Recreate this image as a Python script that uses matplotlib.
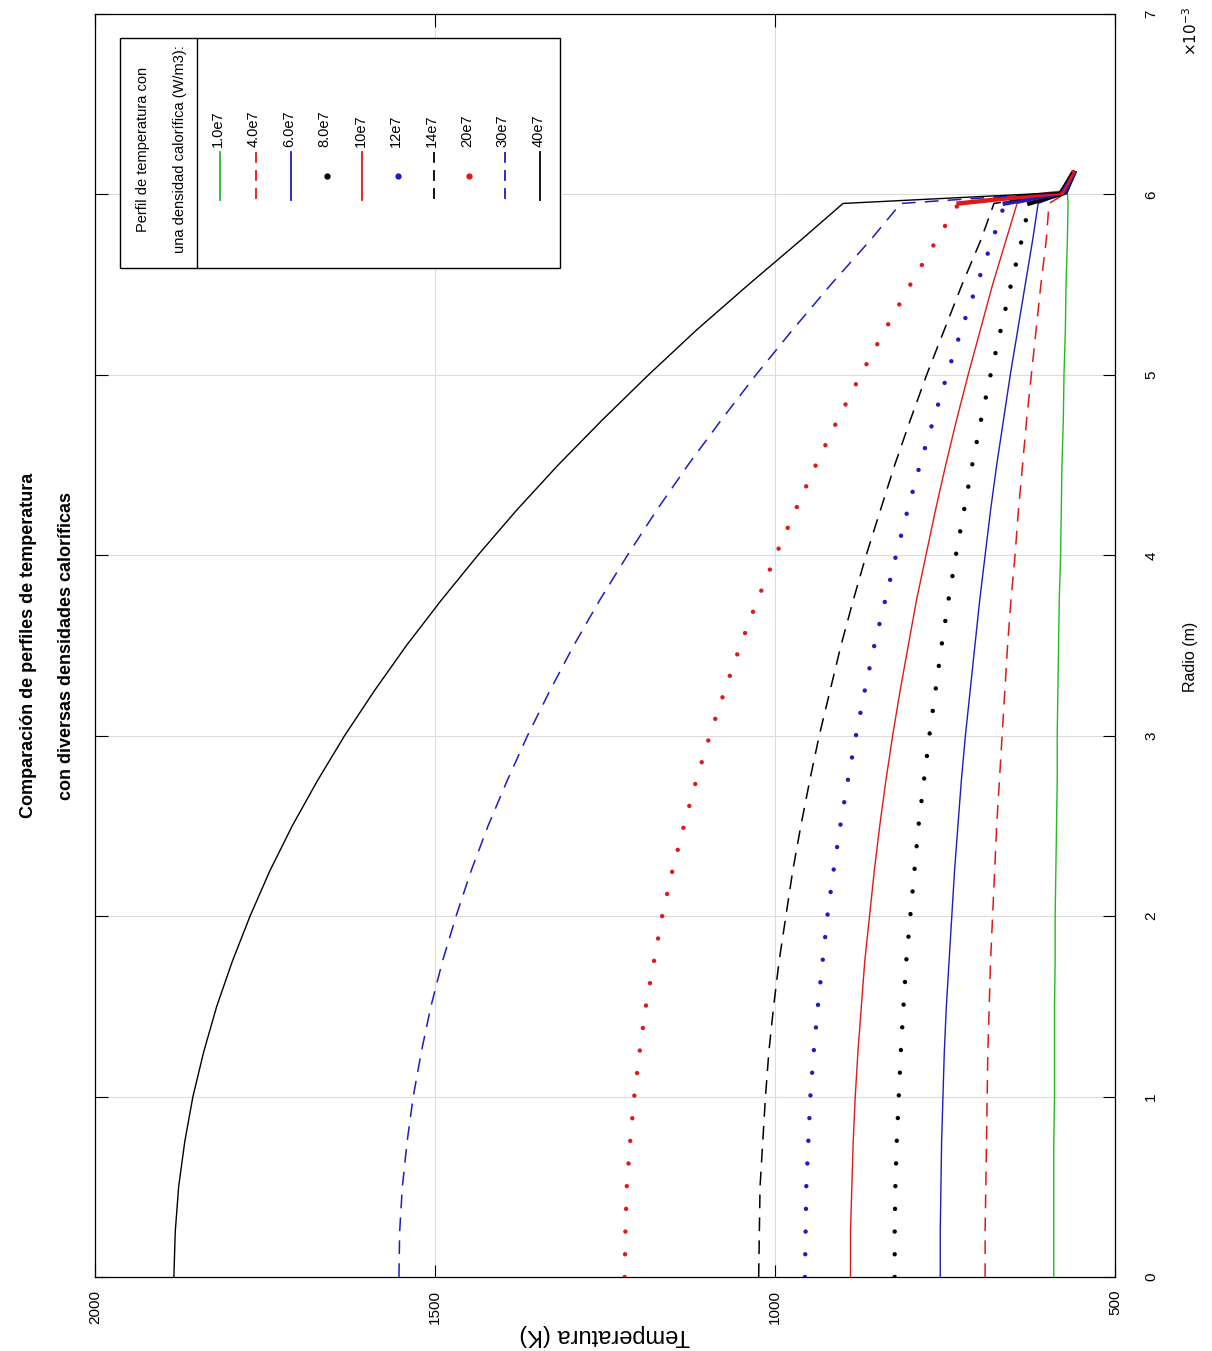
import matplotlib
matplotlib.use('Agg')
import matplotlib.pyplot as plt
from matplotlib.lines import Line2D
from matplotlib.patches import Rectangle
import numpy as np

plt.rcParams['font.family'] = ['Liberation Sans', 'DejaVu Sans']

# ---------------- data ----------------
# radial positions in units of 1e-3 m
radius_fuel = [0.0, 0.25, 0.5, 0.75, 1.0, 1.25, 1.5, 1.75, 2.0, 2.25, 2.5, 2.75, 3.0,
               3.25, 3.5, 3.75, 4.0, 4.25, 4.5, 4.75, 5.0, 5.25, 5.5, 5.75, 5.95]
radius_clad = [6.01, 6.12]

series_labels = ['1.0e7', '4.0e7', '6.0e7', '8.0e7', '10e7', '12e7', '14e7', '20e7', '30e7', '40e7']

T_1e7 = [590, 590, 590, 590, 589, 589, 589, 588, 588, 587, 586, 585, 585,
         584, 583, 582, 580, 579, 578, 576, 575, 573, 572, 570, 569]
T_4e7 = [691, 691, 690, 689, 688, 687, 685, 683, 680, 677, 674, 670, 666,
         662, 658, 653, 647, 642, 636, 630, 623, 616, 609, 601, 597]
T_6e7 = [757, 757, 756, 755, 753, 751, 748, 744, 740, 736, 731, 726, 720,
         713, 706, 699, 691, 683, 674, 664, 654, 643, 632, 621, 613]
T_8e7 = [824, 824, 823, 821, 818, 815, 811, 807, 801, 795, 789, 781, 773,
         764, 755, 745, 734, 722, 710, 697, 683, 668, 653, 637, 626]
T_10e7 = [889, 889, 887, 885, 882, 878, 873, 868, 861, 854, 846, 837, 827,
          816, 804, 792, 778, 764, 749, 733, 716, 698, 680, 660, 644]
T_12e7 = [956, 955, 954, 951, 948, 943, 937, 930, 923, 914, 904, 893, 881,
          868, 854, 838, 822, 805, 787, 767, 747, 726, 703, 680, 662]
T_14e7 = [1024, 1023, 1022, 1018, 1014, 1009, 1002, 994, 984, 974, 962, 949, 935,
          919, 903, 885, 866, 845, 824, 801, 777, 751, 725, 697, 678]
T_20e7 = [1221, 1220, 1218, 1213, 1207, 1199, 1190, 1178, 1166, 1151, 1134, 1116, 1096,
          1074, 1051, 1026, 999, 970, 940, 908, 874, 838, 801, 762, 730]
T_30e7 = [1553, 1552, 1548, 1541, 1532, 1520, 1506, 1489, 1469, 1447, 1422, 1394, 1364,
          1331, 1296, 1258, 1217, 1174, 1128, 1079, 1028, 974, 918, 859, 815]
T_40e7 = [1884, 1882, 1877, 1868, 1856, 1840, 1821, 1798, 1772, 1743, 1710, 1673, 1633,
          1589, 1542, 1491, 1437, 1380, 1319, 1254, 1186, 1115, 1039, 961, 900]

# cladding inner / outer temperatures (K)
T_clad_in = [570, 571, 572, 573, 574, 575, 576, 578, 580, 582]
T_clad_out = [559, 559, 560, 560, 561, 561, 562, 562, 563, 564]

T_ticks = [500, 1000, 1500, 2000]
T_tick_labels = ['500', '1000', '1500', '2000']
r_ticks = [0, 1, 2, 3, 4, 5, 6, 7]
r_tick_labels = ['0', '1', '2', '3', '4', '5', '6', '7']

fuel_profiles = [T_1e7, T_4e7, T_6e7, T_8e7, T_10e7, T_12e7, T_14e7, T_20e7, T_30e7, T_40e7]

# ---------------- styles ----------------
GREEN = '#22bb22'
RED = '#e01818'
BLUE = '#1c1cc0'
BLACK = '#000000'
styles = [(GREEN, 'solid'), (RED, 'dash'), (BLUE, 'solid'), (BLACK, 'dot'), (RED, 'solid'),
          (BLUE, 'dot'), (BLACK, 'dash'), (RED, 'dot'), (BLUE, 'dash'), (BLACK, 'solid')]
DASH = (0, (9, 6))
DOT = (0, (0.01, 5.1))

fig = plt.figure(figsize=(12.12, 13.51), dpi=100)
ax = fig.add_axes([95 / 1212, 74 / 1351, 1020 / 1212, 1263 / 1351])

for prof, cin, cout, (col, kind) in zip(fuel_profiles, T_clad_in, T_clad_out, styles):
    r = np.array(radius_fuel + radius_clad) * 1e-3
    T = np.array(prof + [cin, cout], dtype=float)
    nf = len(radius_fuel)
    if kind == 'solid':
        ax.plot(T, r, color=col, lw=1.0, zorder=3)
    elif kind == 'dash':
        ax.plot(T, r, color=col, lw=1.1, linestyle=DASH, zorder=3)
    else:
        ax.plot(T[:nf], r[:nf], color=col, lw=3.2, linestyle=DOT,
                dash_capstyle='round', zorder=3)
        ax.plot(T[nf - 1:], r[nf - 1:], color=col, lw=3.2, zorder=3)

ax.set_xlim(2000, 500)
ax.set_ylim(0, 7e-3)
ax.grid(True, color='#dcdcdc', lw=0.8)
ax.set_axisbelow(True)

ax.set_xticks(T_ticks, T_tick_labels, rotation=90, fontsize=11)
ax.yaxis.tick_right()
ax.set_yticks(np.array(r_ticks) * 1e-3, r_tick_labels, rotation=90, va='center', fontsize=11)
ax.tick_params(axis='both', direction='in', length=9, width=0.8, top=True, bottom=True,
               left=True, right=True, labelleft=False, labelright=True)
ax.tick_params(axis='x', pad=9)
ax.tick_params(axis='y', pad=21)
for s in ax.spines.values():
    s.set_linewidth(0.9)

ax.set_xlabel('Temperatura (K)', rotation=180, fontsize=17)
ax.xaxis.set_label_coords(0.5, -0.046)
ax.xaxis.label.set_va('center')
ax.yaxis.set_label_position('right')
ax.set_ylabel('Radio (m)', rotation=90, fontsize=11.5)
ax.yaxis.set_label_coords((1190 - 95) / 1020, (1277 - 657) / 1263)
ax.yaxis.label.set_va('center')
ax.yaxis.label.set_rotation_mode('default')

ax.text((1191 - 95) / 1020, (1277 - 31) / 1263, r'$\times10^{-3}$', rotation=90,
        transform=ax.transAxes, ha='center', va='center', fontsize=11)

# title
ax.text((29 - 95) / 1020, 0.5, 'Comparación de perfiles de temperatura', rotation=90,
        transform=ax.transAxes, ha='center', va='center', fontsize=13, fontweight='bold')
ax.text((67 - 95) / 1020, 0.5, 'con diversas densidades caloríficas', rotation=90,
        transform=ax.transAxes, ha='center', va='center', fontsize=13, fontweight='bold')

# ---------------- legend (rotated layout) ----------------
def axx(px):
    return (px - 95) / 1020


def axy(py):
    return (1277 - py) / 1263


ax.add_patch(Rectangle((axx(120), axy(268)), axx(560) - axx(120), axy(38) - axy(268),
                       transform=ax.transAxes, facecolor='white', edgecolor='black',
                       lw=1.0, zorder=5))
ax.add_line(Line2D([axx(197), axx(197)], [axy(38), axy(268)], transform=ax.transAxes,
                   color='black', lw=1.0, zorder=6))
ax.text(axx(143), axy(149), 'Perfil de temperatura con', rotation=90, transform=ax.transAxes,
        ha='center', va='center', fontsize=10.5, zorder=7)
ax.text(axx(180), axy(149), 'una densidad calorífica (W/m3):', rotation=90,
        transform=ax.transAxes, ha='center', va='center', fontsize=10.5, zorder=7)

for i, (lab, (col, kind)) in enumerate(zip(series_labels, styles)):
    xc = 220 + 35.6 * i
    ax.text(axx(xc - 2), axy(147), lab, rotation=90, rotation_mode='anchor',
            transform=ax.transAxes, ha='left', va='center', fontsize=10.5, zorder=7)
    if kind == 'solid':
        ax.add_line(Line2D([axx(xc), axx(xc)], [axy(152), axy(200)], transform=ax.transAxes,
                           color=col, lw=1.3, zorder=7))
    elif kind == 'dash':
        ax.add_line(Line2D([axx(xc), axx(xc)], [axy(152), axy(200)], transform=ax.transAxes,
                           color=col, lw=1.3, linestyle=(0, (6, 4)), zorder=7))
    else:
        ax.add_line(Line2D([axx(xc)], [axy(176)], transform=ax.transAxes, color=col,
                           marker='o', ms=3.5, lw=0, zorder=7))

fig.savefig('out.png', dpi=100)
